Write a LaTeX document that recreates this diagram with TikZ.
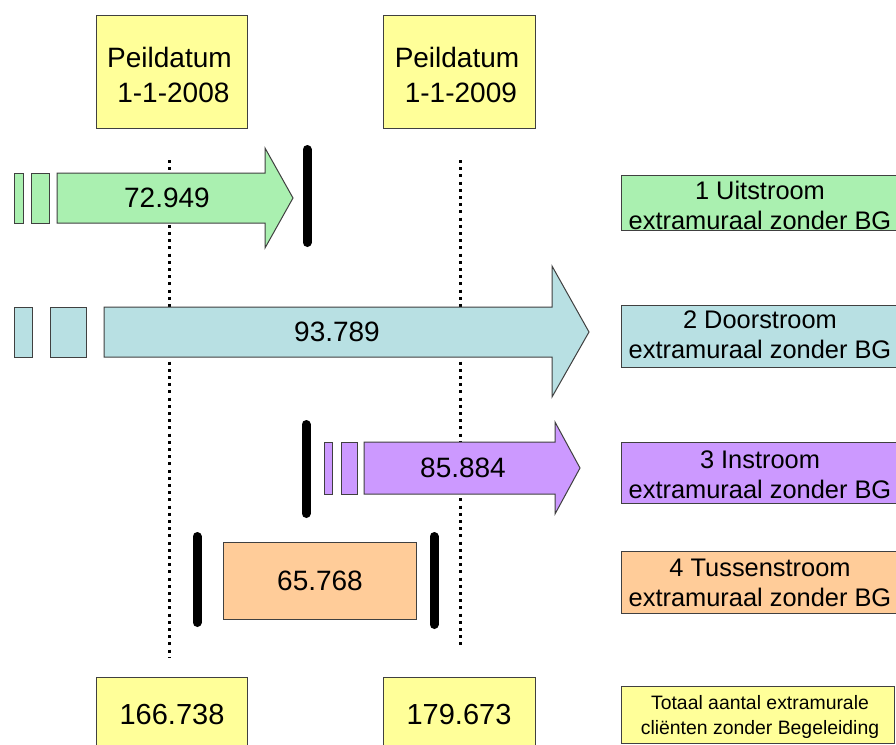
\documentclass[tikz,border=0pt]{standalone}
\usepackage{fontspec}
\setmainfont{Liberation Sans}
\usetikzlibrary{calc}
\definecolor{cgreen}{HTML}{AAF0B0}
\definecolor{cblue}{HTML}{B8E0E3}
\definecolor{cpurple}{HTML}{CC99FF}
\definecolor{corange}{HTML}{FFCC99}
\definecolor{cyellow}{HTML}{FFFF99}
\begin{document}
\begin{tikzpicture}[x=1pt,y=-1pt,
  bd/.style={draw=black!75, line width=1pt},
  yel/.style={bd, fill=cyellow, inner sep=0pt},
  rbox/.style={bd, inner sep=0pt, minimum width=278},
  bar/.style={line width=9pt, line cap=round},
  dots/.style={line width=3pt, dash pattern=on 3pt off 4.2pt},
  big/.style={font=\fontsize{28}{35}\selectfont, align=center, inner sep=0pt},
  huge/.style={font=\fontsize{29}{36}\selectfont, inner sep=0pt},
  lab/.style={font=\fontsize{25.4}{30}\selectfont, align=center, inner sep=0pt},
  small/.style={font=\fontsize{19.4}{25}\selectfont, align=center, inner sep=0pt},
]
\clip (0,0) rectangle (896,744);
\fill[white] (0,0) rectangle (896,744);

% dotted reference lines
\coordinate (d1t) at (169,160); \coordinate (d1b) at (169,657);
\coordinate (d2t) at (460,160); \coordinate (d2b) at (460,648);
\draw[dots] (d1t) -- (d1b);
\draw[dots] (d2t) -- (d2b);

% top boxes
\node[yel, minimum width=151, minimum height=113] (p1) at (171.5,71.5) {};
\node[big] (p1t) at (169.5,74.5) {Peildatum\\\ 1-1-2008};
\node[yel, minimum width=152, minimum height=113] (p2) at (459,71.5) {};
\node[big] (p2t) at (457,74.5) {Peildatum\\\ 1-1-2009};

% row 1 green
\draw[bd, fill=cgreen] (14,173) rectangle (23,223);
\draw[bd, fill=cgreen] (31,173) rectangle (49,223);
\draw[bd, fill=cgreen] (57,173) -- (265,173) -- (265,148) -- (293,198) -- (265,248) -- (265,223) -- (57,223) -- cycle;
\node[big] (n1) at (167,198) {72.949};
\draw[bar] (307,149.5) -- (307,242.5);

% row 2 blue
\draw[bd, fill=cblue] (14,307) rectangle (32,357);
\draw[bd, fill=cblue] (50,307) rectangle (86,357);
\draw[bd, fill=cblue] (104,307) -- (552,307) -- (552,266) -- (589,332) -- (552,397) -- (552,357) -- (104,357) -- cycle;
\node[big] (n2) at (337,332) {93.789};

% row 3 purple
\draw[bar] (306,424.5) -- (306,513.5);
\draw[bd, fill=cpurple] (324,442) rectangle (332,494);
\draw[bd, fill=cpurple] (341,442) rectangle (357,494);
\draw[bd, fill=cpurple] (364,442) -- (555,442) -- (555,422) -- (580,468) -- (555,514) -- (555,494) -- (364,494) -- cycle;
\node[big] (n3) at (463,468) {85.884};

% row 4 orange
\draw[bar] (197,536.5) -- (197,622.5);
\draw[bar] (434,536.5) -- (434,624.5);
\node[bd, fill=corange, inner sep=0pt, minimum width=193, minimum height=77] (o4) at (319.5,580.5) {};
\node[big] (n4) at (320,581) {65.768};

% bottom totals
\node[yel, minimum width=151, minimum height=83] (t1) at (171.5,718.5) {};
\node[huge] (t1t) at (172,715) {166.738};
\node[yel, minimum width=152, minimum height=83] (t2) at (459,718.5) {};
\node[huge] (t2t) at (459,715) {179.673};

% right legend
\node[rbox, fill=cgreen, minimum height=55] (r1) at (760,202.5) {};
\node[lab] (r1t) at (760,205) {1 Uitstroom\\extramuraal zonder BG};
\node[rbox, fill=cblue, minimum height=62] (r2) at (760,336) {};
\node[lab] (r2t) at (760,335) {2 Doorstroom\\extramuraal zonder BG};
\node[rbox, fill=cpurple, minimum height=61] (r3) at (760,472.5) {};
\node[lab] (r3t) at (760,475) {3 Instroom\\extramuraal zonder BG};
\node[rbox, fill=corange, minimum height=62] (r4) at (760,582) {};
\node[lab] (r4t) at (760,583) {4 Tussenstroom\\extramuraal zonder BG};
\node[bd, fill=cyellow, inner sep=0pt, minimum width=273, minimum height=57] (r5) at (757.5,714.5) {};
\node[small] (r5t) at (760,717) {Totaal aantal extramurale\\cliënten zonder Begeleiding};
\end{tikzpicture}
\end{document}
